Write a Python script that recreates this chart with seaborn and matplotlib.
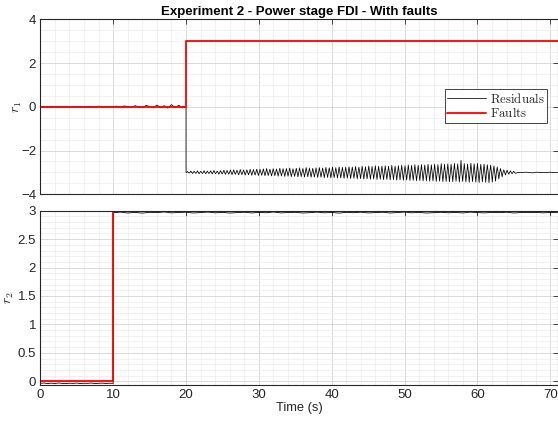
import numpy as np
import pandas as pd
import seaborn as sns
import matplotlib
matplotlib.use("Agg")
import matplotlib.pyplot as plt
from matplotlib.ticker import MultipleLocator

# ---------------- data ----------------
title = "Experiment 2 - Power stage FDI - With faults"
xlabel = "Time (s)"
x_max = 71.0

# Panel 1 (r1): fault step
fault1_t = [0.0, 20.0, x_max]
fault1_v = [0.0, 3.0, 3.0]
# Panel 2 (r2): fault step
fault2_t = [0.0, 10.0, x_max]
fault2_v = [0.0, 3.0, 3.0]

# r1 residual, before fault (0..20 s, 0.5 s samples)
r1_pre = [0.00, 0.01, -0.01, 0.00, 0.02, -0.01, 0.00, 0.01, -0.02, 0.01,
          0.00, 0.02, -0.01, 0.01, 0.00, -0.02, 0.03, 0.00, -0.01, 0.02,
          0.00, 0.03, -0.02, 0.04, 0.01, -0.03, 0.05, 0.00, -0.04, 0.06,
          0.02, -0.05, 0.08, -0.03, 0.05, -0.06, 0.10, -0.04, 0.07, -0.05, 0.02]
# r1 residual after fault: baseline and oscillation peaks (up / down offsets)
r1_base = -3.0
r1_up = [0.04, 0.06, 0.05, 0.07, 0.05, 0.08, 0.06, 0.07, 0.09, 0.06,
         0.08, 0.10, 0.09, 0.11, 0.12, 0.10, 0.13, 0.11, 0.12, 0.14,
         0.13, 0.15, 0.14, 0.16, 0.18, 0.15, 0.17, 0.16, 0.19, 0.17,
         0.18, 0.20, 0.17, 0.19, 0.21, 0.18, 0.22, 0.20, 0.19, 0.21,
         0.22, 0.20, 0.23, 0.21, 0.24, 0.22, 0.25, 0.23, 0.24, 0.26,
         0.25, 0.27, 0.24, 0.28, 0.26, 0.29, 0.27, 0.30, 0.28, 0.29,
         0.30, 0.28, 0.32, 0.29, 0.31, 0.33, 0.30, 0.34, 0.32, 0.35,
         0.33, 0.36, 0.34, 0.37, 0.35, 0.38, 0.36, 0.40, 0.37, 0.39,
         0.38, 0.41, 0.39, 0.55, 0.40, 0.38, 0.42, 0.39, 0.41, 0.37,
         0.38, 0.35, 0.33, 0.30, 0.25, 0.18, 0.12, 0.10, 0.07, 0.05]
r1_down = [0.03, 0.05, 0.04, 0.06, 0.05, 0.06, 0.05, 0.07, 0.06, 0.08,
           0.07, 0.09, 0.08, 0.10, 0.09, 0.11, 0.10, 0.12, 0.11, 0.13,
           0.12, 0.14, 0.13, 0.15, 0.14, 0.16, 0.15, 0.17, 0.16, 0.18,
           0.17, 0.19, 0.18, 0.20, 0.19, 0.21, 0.20, 0.22, 0.21, 0.23,
           0.22, 0.24, 0.23, 0.25, 0.24, 0.26, 0.25, 0.27, 0.26, 0.28,
           0.27, 0.29, 0.28, 0.30, 0.29, 0.31, 0.30, 0.32, 0.31, 0.33,
           0.32, 0.34, 0.33, 0.35, 0.34, 0.36, 0.35, 0.37, 0.36, 0.38,
           0.37, 0.39, 0.38, 0.40, 0.39, 0.41, 0.40, 0.42, 0.41, 0.43,
           0.42, 0.40, 0.44, 0.41, 0.43, 0.45, 0.42, 0.44, 0.46, 0.43,
           0.45, 0.47, 0.44, 0.40, 0.30, 0.20, 0.12, 0.08, 0.06, 0.04]
# r1 residual, settled tail (65.6..71 s)
r1_tail = [-3.00, -3.01, -2.99, -3.00, -3.02, -2.99, -3.00, -3.01, -3.00, -2.99, -3.01, -3.00]

# r2 residual, before fault (0..10 s) and after (10..71 s)
r2_pre = [-0.035, -0.030, -0.040, -0.032, -0.038, -0.030, -0.036, -0.041, -0.033, -0.037,
          -0.031, -0.039, -0.034, -0.036, -0.030, -0.040, -0.035, -0.032, -0.038, -0.034, -0.036]
r2_post = [2.965, 2.975, 2.960, 2.970, 2.958, 2.972, 2.966, 2.978, 2.962, 2.969,
           2.974, 2.960, 2.968, 2.976, 2.963, 2.971, 2.959, 2.967, 2.973, 2.961,
           2.970, 2.964, 2.977, 2.962, 2.968, 2.972, 2.960, 2.966, 2.975, 2.963,
           2.969, 2.958, 2.971, 2.965, 2.974, 2.961, 2.967, 2.973, 2.960, 2.968,
           2.976, 2.963, 2.970, 2.959, 2.966, 2.972, 2.964, 2.969, 2.961, 2.975,
           2.967, 2.962, 2.971, 2.965, 2.973, 2.960, 2.968, 2.966, 2.970, 2.963,
           2.969, 2.965]

# ---------------- assemble series ----------------
t_pre1 = np.linspace(0.0, 20.0, len(r1_pre))
n = len(r1_up)
t_osc = np.linspace(20.1, 65.2, 4 * n)
osc_vals = []
for u, d in zip(r1_up, r1_down):
    osc_vals += [r1_base, r1_base + u, r1_base, r1_base - d]
t_tail = np.linspace(65.6, x_max, len(r1_tail))
r1_t = np.concatenate([t_pre1, [20.0], t_osc, t_tail])
r1_v = np.concatenate([r1_pre, [r1_base], osc_vals, r1_tail])

t_pre2 = np.linspace(0.0, 10.0, len(r2_pre))
t_post2 = np.linspace(10.0, x_max, len(r2_post))
r2_t = np.concatenate([t_pre2, t_post2])
r2_v = np.concatenate([r2_pre, r2_post])

df1 = pd.DataFrame({"t": r1_t, "v": r1_v})
df2 = pd.DataFrame({"t": r2_t, "v": r2_v})
f1 = pd.DataFrame({"t": fault1_t, "v": fault1_v})
f2 = pd.DataFrame({"t": fault2_t, "v": fault2_v})

# ---------------- plotting ----------------
sns.set_theme(style="white")
plt.rcParams["font.family"] = ["Liberation Sans", "DejaVu Sans"]
plt.rcParams["mathtext.fontset"] = "cm"

fig = plt.figure(figsize=(5.58, 4.26), dpi=100)
W, H = 558.0, 426.0
x0 = 40.3 / W
wid = (557.6 - 40.3) / W
ax1 = fig.add_axes([x0, 1 - 194.3 / H, wid, 175.0 / H])
ax2 = fig.add_axes([x0, 1 - 384.7 / H, wid, 174.0 / H])

edge = "#262626"
for ax in (ax1, ax2):
    ax.set_facecolor("white")
    for s in ax.spines.values():
        s.set_color(edge)
        s.set_linewidth(0.8)
    ax.tick_params(which="both", direction="in", top=True, right=True,
                   colors=edge, labelcolor=edge, labelsize=9.5, pad=3)
    ax.tick_params(which="major", length=3.5, width=0.6)
    ax.tick_params(which="minor", length=0)
    ax.xaxis.set_major_locator(MultipleLocator(10))
    ax.xaxis.set_minor_locator(MultipleLocator(2))
    ax.grid(True, which="major", color="#d4d4d4", linewidth=0.6)
    ax.grid(True, which="minor", color="#ebebeb", linewidth=0.5)
    ax.set_axisbelow(True)
    ax.set_xlim(0, x_max)

sns.lineplot(data=df1, x="t", y="v", ax=ax1, color="black", linewidth=0.55,
             estimator=None, sort=False, label=r"$\mathrm{Residuals}$")
sns.lineplot(data=f1, x="t", y="v", ax=ax1, color="#ff0000", linewidth=1.3,
             estimator=None, sort=False, drawstyle="steps-post",
             label=r"$\mathrm{Faults}$")
sns.lineplot(data=df2, x="t", y="v", ax=ax2, color="black", linewidth=0.6,
             estimator=None, sort=False)
sns.lineplot(data=f2, x="t", y="v", ax=ax2, color="#ff0000", linewidth=1.3,
             estimator=None, sort=False, drawstyle="steps-post")

ax1.set_ylim(-4, 4)
ax1.yaxis.set_major_locator(MultipleLocator(2))
ax1.yaxis.set_minor_locator(MultipleLocator(0.5))
ax1.set_xticklabels([])
ax1.set_xlabel("")
ax1.set_ylabel(r"$r_1$", fontsize=10, color=edge, labelpad=-2)
ax1.set_title(title, fontsize=9.5, fontweight="bold", color="black", pad=3)

ax2.set_ylim(-0.06, 3.0)
ax2.yaxis.set_major_locator(MultipleLocator(0.5))
ax2.yaxis.set_minor_locator(MultipleLocator(0.1))
ax2.set_yticks([0, 0.5, 1, 1.5, 2, 2.5, 3])
ax2.set_yticklabels(["0", "0.5", "1", "1.5", "2", "2.5", "3"])
ax2.set_ylabel(r"$r_2$", fontsize=10, color=edge, labelpad=1.5)
ax2.set_xlabel(xlabel, fontsize=9.3, color=edge, labelpad=1)

leg = ax1.legend(loc="center right", bbox_to_anchor=(0.985, 0.505), fontsize=9.3,
                 frameon=True, fancybox=False, framealpha=1, edgecolor=edge,
                 handlelength=3.0, borderpad=0.2, labelspacing=0.05,
                 handletextpad=0.3, borderaxespad=0.2)
leg.get_frame().set_linewidth(0.6)

fig.savefig("out.png", dpi=100)
